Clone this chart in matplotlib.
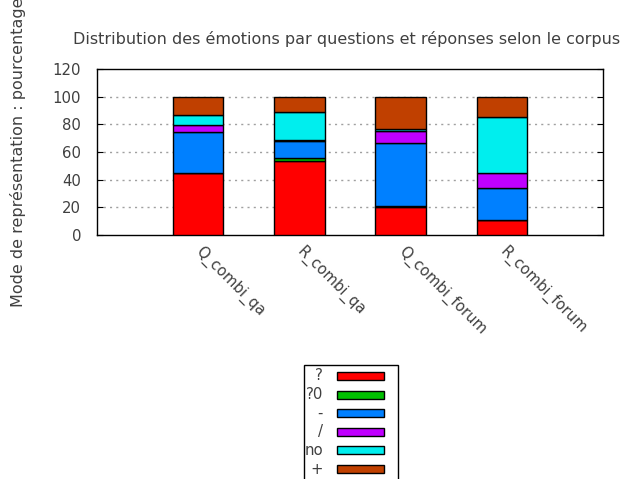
import matplotlib
matplotlib.use('Agg')
import matplotlib.pyplot as plt
from matplotlib.patches import Rectangle
import numpy as np

corpus = ['Q_combi_qa', 'R_combi_qa', 'Q_combi_forum', 'R_combi_forum']
emotions = ['?', '?0', '-', '/', 'no', '+']
couleurs = ['#ff0000', '#00c000', '#0080ff', '#c000ff', '#00eeee', '#c04000']

# pourcentages par émotion, un élément par corpus
v_q = [44.6, 53.3, 20.5, 10.6]
v_q0 = [0.5, 2.6, 0.5, 0.0]
v_moins = [29.1, 12.1, 45.3, 23.4]
v_slash = [5.1, 0.5, 8.7, 10.6]
v_no = [7.2, 20.7, 1.9, 40.5]
v_plus = [13.5, 10.8, 23.1, 14.9]
series = [v_q, v_q0, v_moins, v_slash, v_no, v_plus]

plt.rcParams['font.family'] = 'DejaVu Sans'
plt.rcParams['font.size'] = 10.7
gris = '#404040'

W, H = 621, 479
fig = plt.figure(figsize=(W / 100, H / 100), dpi=100)
ax = fig.add_axes([97 / W, 1 - 235 / H, (603 - 97) / W, (235 - 69) / H])

x = np.arange(len(corpus))
bas = np.zeros(len(corpus))
for vals, c in zip(series, couleurs):
    ax.bar(x, vals, 0.5, bottom=bas, color=c, edgecolor='black',
           linewidth=1.0, zorder=3)
    bas += np.array(vals)

ax.set_xlim(-1, 4)
ax.set_ylim(0, 120)
ax.set_yticks(range(0, 121, 20))
ax.tick_params(axis='y', direction='in', length=4, right=True, pad=11.5,
               colors='black', labelcolor=gris)
ax.set_xticks(x)
ax.set_xticklabels(corpus, rotation=-45, ha='left', va='center',
                   rotation_mode='anchor', color=gris)
ax.tick_params(axis='x', length=0, pad=10)
for s in ax.spines.values():
    s.set_linewidth(1.0)
for yv in range(20, 101, 20):
    ax.axhline(yv, color='#a0a0a0', linestyle=(0, (1.5, 3)), linewidth=1.0,
               zorder=1)

fig.text(347 / W, 1 - 39 / H,
         'Distribution des émotions par questions et réponses selon le corpus',
         ha='center', va='center', color=gris, fontsize=11.5)
fig.text(18 / W, 1 - 152 / H, 'Mode de représentation : pourcentage',
         rotation=90, ha='center', va='center', color=gris, fontsize=11.5)

# légende sous le graphique
fig.patches.append(Rectangle((304 / W, 1 - 485 / H), (398 - 304) / W,
                             (485 - 365) / H, transform=fig.transFigure,
                             facecolor='white', edgecolor='black',
                             linewidth=1.0))
for i, (nom, c) in enumerate(zip(emotions, couleurs)):
    yc = 376 + i * 18.6
    fig.text(323 / W, 1 - yc / H, nom, ha='right', va='center', color=gris)
    fig.patches.append(Rectangle((337 / W, 1 - (yc + 4) / H), 47 / W, 8 / H,
                                 transform=fig.transFigure, facecolor=c,
                                 edgecolor='black', linewidth=1.0))

fig.savefig('out.png', dpi=100)
